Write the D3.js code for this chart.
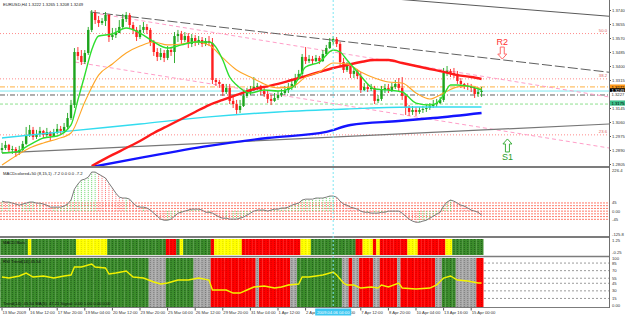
<!DOCTYPE html>
<html>
<head>
<meta charset="utf-8">
<script src="https://d3js.org/d3.v7.min.js"></script>
<style>
  body { margin:0; background:#ffffff; }
  svg { display:block; font-family:"Liberation Sans", Arial, sans-serif; }
</style>
</head>
<body>
<script>
    // ---------- EURUSD H4 candles ----------
    var firstOpen = 1.2890;
    var closes = [1.2902,1.2921,1.2890,1.2896,1.2878,1.2890,1.2927,1.2981,1.3012,1.2969,
        1.2987,1.3006,1.2981,1.2999,1.2975,1.2993,1.3018,1.3006,1.3030,1.3084,
        1.3163,1.3485,1.3461,1.3424,1.3479,1.3619,1.3722,1.3679,1.3661,1.3673,
        1.3710,1.3576,1.3588,1.3600,1.3637,1.3685,1.3710,1.3649,1.3619,1.3576,
        1.3619,1.3637,1.3619,1.3546,1.3485,1.3455,1.3479,1.3449,1.3497,1.3485,
        1.3582,1.3594,1.3558,1.3582,1.3534,1.3570,1.3546,1.3558,1.3534,1.3552,
        1.3540,1.3315,1.3303,1.3291,1.3242,1.3267,1.3188,1.3169,1.3133,1.3157,
        1.3218,1.3242,1.3254,1.3273,1.3279,1.3248,1.3230,1.3200,1.3188,1.3206,
        1.3224,1.3236,1.3254,1.3273,1.3291,1.3327,1.3352,1.3455,1.3430,1.3443,
        1.3430,1.3449,1.3430,1.3473,1.3509,1.3546,1.3564,1.3534,1.3424,1.3376,
        1.3400,1.3352,1.3370,1.3339,1.3254,1.3273,1.3260,1.3267,1.3188,1.3200,
        1.3254,1.3267,1.3254,1.3273,1.3291,1.3267,1.3218,1.3145,1.3121,1.3133,
        1.3121,1.3133,1.3139,1.3145,1.3157,1.3169,1.3175,1.3194,1.3358,1.3370,
        1.3358,1.3352,1.3309,1.3291,1.3279,1.3273,1.3267,1.3230,1.3242,1.3249];
    var highs = [1.2933,1.2945,1.2927,1.2915,1.2908,1.2915,1.2945,1.3030,1.3042,1.3030,
        1.3012,1.3030,1.3012,1.3024,1.3006,1.3018,1.3048,1.3036,1.3054,1.3115,
        1.3194,1.3509,1.3515,1.3497,1.3497,1.3637,1.3740,1.3740,1.3704,1.3691,
        1.3728,1.3716,1.3631,1.3631,1.3679,1.3716,1.3728,1.3722,1.3667,1.3637,
        1.3649,1.3667,1.3655,1.3631,1.3558,1.3509,1.3509,1.3497,1.3521,1.3515,
        1.3606,1.3619,1.3613,1.3606,1.3600,1.3594,1.3588,1.3582,1.3576,1.3570,
        1.3582,1.3570,1.3327,1.3315,1.3291,1.3291,1.3291,1.3218,1.3194,1.3194,
        1.3254,1.3267,1.3279,1.3333,1.3297,1.3285,1.3267,1.3254,1.3224,1.3236,
        1.3248,1.3260,1.3279,1.3297,1.3315,1.3352,1.3376,1.3473,1.3515,1.3467,
        1.3461,1.3467,1.3461,1.3497,1.3528,1.3570,1.3582,1.3576,1.3546,1.3449,
        1.3424,1.3412,1.3394,1.3382,1.3364,1.3297,1.3291,1.3291,1.3279,1.3224,
        1.3279,1.3291,1.3291,1.3297,1.3315,1.3327,1.3333,1.3230,1.3163,1.3157,
        1.3151,1.3151,1.3157,1.3163,1.3175,1.3194,1.3200,1.3212,1.3388,1.3400,
        1.3382,1.3388,1.3370,1.3327,1.3297,1.3297,1.3291,1.3279,1.3267,1.3273];
    var lows = [1.2872,1.2890,1.2872,1.2866,1.2848,1.2860,1.2878,1.2921,1.2969,1.2951,
        1.2957,1.2969,1.2963,1.2969,1.2945,1.2969,1.2987,1.2981,1.2993,1.3018,
        1.3072,1.3145,1.3436,1.3406,1.3412,1.3467,1.3606,1.3655,1.3637,1.3649,
        1.3643,1.3546,1.3558,1.3570,1.3600,1.3625,1.3667,1.3631,1.3594,1.3552,
        1.3564,1.3600,1.3594,1.3521,1.3461,1.3430,1.3436,1.3424,1.3436,1.3461,
        1.3418,1.3546,1.3534,1.3546,1.3509,1.3515,1.3521,1.3528,1.3515,1.3521,
        1.3521,1.3291,1.3279,1.3267,1.3218,1.3230,1.3169,1.3145,1.3109,1.3115,
        1.3151,1.3206,1.3224,1.3248,1.3254,1.3224,1.3212,1.3175,1.3163,1.3182,
        1.3194,1.3212,1.3224,1.3236,1.3254,1.3267,1.3315,1.3339,1.3412,1.3418,
        1.3412,1.3424,1.3412,1.3424,1.3461,1.3503,1.3528,1.3515,1.3400,1.3358,
        1.3364,1.3327,1.3327,1.3321,1.3236,1.3248,1.3242,1.3248,1.3169,1.3175,
        1.3188,1.3236,1.3236,1.3242,1.3260,1.3248,1.3194,1.3103,1.3097,1.3103,
        1.3097,1.3109,1.3115,1.3121,1.3133,1.3145,1.3151,1.3169,1.3182,1.3339,
        1.3333,1.3327,1.3291,1.3267,1.3260,1.3254,1.3242,1.3206,1.3212,1.3212];

    // ---------- moving averages (read at selected bars) ----------
    var fastIdx = [0,4,8,12,16,20,22,24,26,28,32,36,40,44,48,52,56,60,62,64,66,68,72,76,80,84,86,88,92,96,98,100,102,104,108,112,116,120,124,126,128,130,132,136,139];
    var fastMa  = [1.2872,1.2878,1.2921,1.2963,1.2975,1.3042,1.3194,1.3345,1.3497,1.3582,1.3594,1.3631,1.3600,1.3546,1.3509,1.3528,1.3546,1.3546,1.3515,1.3436,1.3333,1.3285,1.3236,1.3254,1.3248,1.3267,1.3327,1.3394,1.3424,1.3497,1.3485,1.3436,1.3388,1.3339,1.3260,1.3254,1.3242,1.3175,1.3163,1.3175,1.3224,1.3285,1.3285,1.3273,1.3254];
    var midIdx = [0,4,8,12,16,20,24,28,32,36,40,44,48,52,56,60,64,68,72,76,80,84,88,92,96,100,104,108,112,116,120,124,128,132,136,139];
    var midMa  = [1.2799,1.2854,1.2902,1.2933,1.2957,1.2993,1.3182,1.3345,1.3412,1.3479,1.3521,1.3546,1.3528,1.3534,1.3546,1.3528,1.3449,1.3376,1.3333,1.3291,1.3267,1.3273,1.3333,1.3364,1.3418,1.3412,1.3364,1.3327,1.3303,1.3297,1.3236,1.3200,1.3236,1.3273,1.3279,1.3260];
    var slowIdx = [26,32,36,40,44,48,52,56,60,64,68,72,76,80,84,88,92,96,100,104,108,112,116,120,124,128,132,136,139];
    var slowMa  = [1.2793,1.2860,1.2902,1.2945,1.2993,1.3036,1.3078,1.3121,1.3163,1.3194,1.3224,1.3254,1.3273,1.3291,1.3315,1.3339,1.3364,1.3388,1.3406,1.3424,1.3436,1.3436,1.3418,1.3400,1.3382,1.3364,1.3345,1.3333,1.3321];
    var cyanIdx = [0,20,40,60,80,100,120,139];
    var cyanMa  = [1.2963,1.3006,1.3048,1.3091,1.3121,1.3139,1.3151,1.3151];
    var blueIdx = [26,40,60,77,94,101,115,125,139];
    var blueMa  = [1.2787,1.2842,1.2915,1.2963,1.3000,1.3042,1.3066,1.3084,1.3115];

    // ---------- levels, trend lines ----------
    var priceTicks = [1.2805,1.2890,1.2975,1.3060,1.3145,1.3315,1.3400,1.3485,1.3570,1.3655,1.3740];
    var fibLevels = [1.3597, 1.3322, 1.2982];
    var fibNames = ["50.0", "38.2", "23.6"];
    var hLevels = [1.3273, 1.3248, 1.3224, 1.3169];
    // [bar1, price1, bar2, price2]
    var trendLines = [[25.5,1.3728,176,1.3362],[115,1.3805,176,1.3702],[28.4,1.3716,176,1.3212],[21.2,1.3424,176,1.2902],[0,1.2872,176,1.3048]];
    var tagValues = [1.3272, 1.3249, 1.3227, 1.3175];
    var tagText = ["1.3272", "1.3249", "1.3227", "1.3175"];

    // ---------- MACD window ----------
    var macd = [55,50,50,44,39,33,39,44,50,50,
        44,44,39,33,22,22,22,22,28,39,
        61,121,149,171,176,187,215,215,204,193,
        182,154,127,99,77,72,72,66,44,28,
        22,22,17,6,-11,-28,-44,-50,-50,-44,
        -28,-11,-6,0,6,11,11,11,6,-6,
        -6,-11,-22,-33,-39,-39,-44,-44,-44,-39,
        -33,-22,-11,0,6,6,6,0,6,11,
        11,17,17,22,33,39,44,61,66,66,
        66,72,72,72,77,83,83,77,55,39,
        33,22,17,11,0,-6,-6,-11,-11,-11,
        -6,-6,0,0,0,0,-11,-28,-44,-55,
        -61,-61,-55,-50,-39,-28,-17,-6,28,50,
        61,55,44,33,28,17,6,0,-6,-22];
    var macdLevels = [45,30,15,0,-15,-30,-45];

    // ---------- colour bar windows (state, number of bars) ----------
    var band1Runs = [["G",8],["Y",1],["G",13],["Y",9],["G",17],["R",3],["G",1],["Y",1],["G",8],["R",1],["Y",8],["R",17],["Y",3],["G",13],["R",2],["Y",3],["R",1],["Y",1],["R",8],["Y",3],["R",8],["Y",2],["G",9]];
    var band2Runs = [["G",43],["S",5],["G",8],["S",5],["R",13],["S",1],["R",9],["S",2],["G",13],["S",2],["R",1],["S",2],["R",4],["S",2],["R",5],["S",1],["R",10],["S",2],["G",4],["S",6],["R",2]];
    var rsiIdx  = [0,2,5,7,9,12,15,18,20,21,23,26,27,30,31,33,36,38,41,44,46,48,51,54,57,60,61,65,67,69,71,73,76,79,81,83,86,87,89,93,96,97,99,100,102,104,107,109,110,112,115,116,120,124,126,128,130,132,135,138,139];
    var rsiVals = [57.4,55.4,59.4,65.3,57.4,59.4,55.4,59.4,61.4,77.2,77.2,83.2,77.2,75.2,63.4,65.3,69.3,57.4,55.4,47.5,43.6,45.5,51.5,51.5,55.4,51.5,31.7,31.7,25.7,25.7,31.7,37.6,39.6,35.6,37.6,41.6,43.6,57.4,57.4,61.4,67.3,61.4,45.5,41.6,41.6,35.6,37.6,35.6,41.6,37.6,45.5,35.6,33.7,35.6,41.6,55.4,59.4,51.5,49.5,45.5,45.5];
    var rsiLevels = [85,70,55,45,30,15];

    // ---------- time axis ----------
    var timeIdx = [0,8,16,24,32,40,48,56,64,72,80,88,96,104,112,120,128,136];
    var timeLabels = ["13 Mar 2009","16 Mar 12:00","17 Mar 20:00","19 Mar 04:00","20 Mar 12:00","23 Mar 20:00","25 Mar 04:00","26 Mar 12:00","29 Mar 20:00","31 Mar 04:00","1 Apr 12:00","2 Apr 20:00","6 Apr 04:00","7 Apr 12:00","8 Apr 20:00","10 Apr 04:00","13 Apr 16:00","15 Apr 00:00"];
    var cursorBar = 96, cursorText = "2009.04.06 04:00";

    var small = 4.2;
    var right = 609;

    var svg = d3.select("body").append("svg")
        .attr("width", 625).attr("height", 316)
        .style("background-color", "#ffffff");

    var x = d3.scaleLinear().domain([0, 139]).range([2, 481.55]);
    var barW = x(1) - x(0);
    var yP = d3.scaleLinear().domain([1.2805, 1.3740]).range([164, 10]);
    var yM = d3.scaleLinear().domain([-125.8, 226.4]).range([234, 170]);
    var yR = d3.scaleLinear().domain([0, 100]).range([306, 255.5]);

    var defs = svg.append("defs");
    function panel(id, y0, h) {
        defs.append("clipPath").attr("id", id).append("rect")
            .attr("x", 0).attr("y", y0).attr("width", right).attr("height", h);
        return svg.append("g").attr("clip-path", "url(#" + id + ")");
    }
    var gMain = panel("cMain", 0, 166);
    var gMacd = panel("cMacd", 169, 67);
    var gBand = panel("cBand", 239, 17);
    var gRsi = panel("cRsi", 258, 49);

    function hline(g, y, color, dash, w) {
        g.append("line").attr("x1", 0).attr("x2", right).attr("y1", y).attr("y2", y)
            .attr("stroke", color).attr("stroke-width", w || 1)
            .attr("stroke-dasharray", dash || null);
    }

    // ---- main window ----
    fibLevels.forEach(function (p, k) {
        hline(gMain, yP(p), "#ff8c8c", "1,2");
        gMain.append("text").attr("x", 607).attr("y", yP(p) - 1.5).attr("text-anchor", "end")
            .attr("font-size", small).attr("fill", "#e06060").text(fibNames[k]);
    });
    var hStyle = [["#ffb040", "5,2,1,2"], ["#80e8f0", null], ["#606060", "5,2,1,2"], ["#8ee08e", "3,2"]];
    hLevels.forEach(function (p, k) { hline(gMain, yP(p), hStyle[k][0], hStyle[k][1]); });

    var tStyle = [["#606060", "10,3", 1], ["#5a5a5a", null, 1], ["#ff9ec8", "4,3", 1], ["#ff9ec8", "4,3", 1], ["#777777", null, 1.2]];
    trendLines.forEach(function (t, k) {
        gMain.append("line")
            .attr("x1", x(t[0])).attr("y1", yP(t[1]))
            .attr("x2", x(t[2])).attr("y2", yP(t[3]))
            .attr("stroke", tStyle[k][0]).attr("stroke-width", tStyle[k][2])
            .attr("stroke-dasharray", tStyle[k][1]);
    });

    var bars = closes.map(function (c, i) {
        return { i: i, o: i ? closes[i - 1] : firstOpen, h: highs[i], l: lows[i], c: c };
    });
    function candleColor(d) { return d.c >= d.o ? "#1ea51e" : "#ff1f1f"; }
    gMain.selectAll(".wick").data(bars).enter().append("line")
        .attr("class", "wick")
        .attr("x1", function (d) { return x(d.i); }).attr("x2", function (d) { return x(d.i); })
        .attr("y1", function (d) { return yP(d.h); }).attr("y2", function (d) { return yP(d.l); })
        .attr("stroke", candleColor).attr("stroke-width", 0.9);
    gMain.selectAll(".body").data(bars).enter().append("rect")
        .attr("class", "body")
        .attr("x", function (d) { return x(d.i) - 1.2; }).attr("width", 2.4)
        .attr("y", function (d) { return yP(Math.max(d.o, d.c)); })
        .attr("height", function (d) { return Math.max(0.8, Math.abs(yP(d.o) - yP(d.c))); })
        .attr("fill", candleColor);

    function maLine(idx, vals, color, w) {
        var line = d3.line().curve(d3.curveMonotoneX)
            .x(function (d, k) { return x(idx[k]); })
            .y(function (d) { return yP(d); });
        gMain.append("path").attr("d", line(vals)).attr("fill", "none")
            .attr("stroke", color).attr("stroke-width", w);
    }
    maLine(cyanIdx, cyanMa, "#33dcef", 1.4);
    maLine(blueIdx, blueMa, "#1414ff", 2.4);
    maLine(slowIdx, slowMa, "#ff1a1a", 2.4);
    maLine(midIdx, midMa, "#ffa526", 1.1);
    maLine(fastIdx, fastMa, "#2ede2e", 1.4);

    // check mark above the peak
    var cx = x(cursorBar), top = yP(highs[cursorBar]) - 20;
    gMain.append("path")
        .attr("d", "M" + (cx - 5) + "," + (top + 6) + " L" + (cx - 1.5) + "," + (top + 11) + " L" + (cx + 6) + "," + top)
        .attr("fill", "none").attr("stroke", "#111").attr("stroke-width", 2);

    // pivot notes
    var notes = [
        { text: "R2", bar: 145, price: 1.3515, dir: -1, color: "#ff3030", edge: "#ff6a6a" },
        { text: "S1", bar: 146.5, price: 1.2957, dir: 1, color: "#2a9a2a", edge: "#3cae3c" }
    ];
    notes.forEach(function (n) {
        var ax = x(n.bar), ay = yP(n.price), s = n.dir;
        // arrow: for "down" ay is top of shaft, tip 12px lower; for "up" ay is the tip
        var tip = s < 0 ? ay + 12 : ay, base = s < 0 ? ay : ay + 13;
        var neck = s < 0 ? tip - 5 : tip + 5;
        var pts = [[ax - 2, base], [ax + 2, base], [ax + 2, neck], [ax + 4.5, neck], [ax, tip], [ax - 4.5, neck], [ax - 2, neck]];
        gMain.append("polygon").attr("points", pts.map(function (p) { return p.join(","); }).join(" "))
            .attr("fill", "#ffffff").attr("stroke", n.edge).attr("stroke-width", 1);
        gMain.append("text").attr("x", ax).attr("y", s < 0 ? ay - 2 : base + 8)
            .attr("text-anchor", "middle").attr("font-size", 9).attr("fill", n.color).text(n.text);
    });

    svg.append("text").attr("x", 3).attr("y", 6).attr("font-size", small).attr("fill", "#222")
        .text("EURUSD,H4  1.3222 1.3265 1.3208 1.3249");

    // price scale
    var ga = svg.append("g").attr("transform", "translate(" + right + ",0)")
        .call(d3.axisRight(yP).tickValues(priceTicks).tickFormat(d3.format(".4f")).tickSize(2));
    ga.select(".domain").remove();
    ga.attr("font-size", small).attr("font-family", "Liberation Sans, Arial, sans-serif");
    ga.selectAll("line").attr("stroke", "#555");
    ga.selectAll("text").attr("x", 3).attr("fill", "#333");

    var tagFill = ["#ff9a1a", "#000000", "#ffffff", "#3cc08a"];
    var tagInk = ["#000", "#fff", "#333", "#000"];
    tagValues.forEach(function (v, k) {
        svg.append("rect").attr("x", right + 1).attr("y", yP(v) - 2.6).attr("width", 15).attr("height", 5.2)
            .attr("fill", tagFill[k]);
        svg.append("text").attr("x", right + 2.5).attr("y", yP(v) + 1.5).attr("font-size", small)
            .attr("fill", tagInk[k]).text(tagText[k]);
    });

    // ---- MACD window ----
    macdLevels.forEach(function (v) { hline(gMacd, yM(v), "#ff7a6a", "2,1"); });
    gMacd.selectAll(".hist").data(macd).enter().append("line")
        .attr("x1", function (d, i) { return x(i); }).attr("x2", function (d, i) { return x(i); })
        .attr("y1", yM(0)).attr("y2", function (d) { return yM(d); })
        .attr("stroke", function (d, i) { return (i === 0 || d >= macd[i - 1]) ? "#6ad66a" : "#ff7070"; })
        .attr("stroke-width", 1).attr("stroke-dasharray", "1,1");
    gMacd.append("path")
        .attr("d", d3.line().x(function (d, i) { return x(i); }).y(function (d) { return yM(d); })(macd))
        .attr("fill", "none").attr("stroke", "#7a7a7a").attr("stroke-width", 1);
    svg.append("text").attr("x", 3).attr("y", 175).attr("font-size", small).attr("fill", "#222")
        .text("MACDcolored+50 (8,15,1) -7.2 0.0 0.0 -7.2");
    [[226.4, "226.4"], [45, "45"], [0, "0.00"], [-45, "-45"], [-125.8, "-125.8"]].forEach(function (t) {
        svg.append("text").attr("x", right + 3).attr("y", yM(t[0]) + 1.5).attr("font-size", small)
            .attr("fill", "#333").text(t[1]);
    });

    // ---- colour bar windows ----
    function expand(runs) {
        var out = [];
        runs.forEach(function (r) { for (var k = 0; k < r[1]; k++) out.push(r[0]); });
        return out;
    }
    var fillOf = { G: "#3c8c2c", Y: "#ffff00", R: "#ff0000", S: "#a9a9a9" };
    var grainOf = { G: "#1c5618", Y: "#d6d600", R: "#c40000", S: "#6e6e6e" };
    function drawBand(g, states, y0, h) {
        g.selectAll(null).data(states).enter().append("rect")
            .attr("x", function (d, i) { return x(i) - barW / 2; }).attr("width", barW + 0.2)
            .attr("y", y0).attr("height", h)
            .attr("fill", function (d) { return fillOf[d]; });
        g.selectAll(null).data(states).enter().append("line")
            .attr("x1", function (d, i) { return x(i); }).attr("x2", function (d, i) { return x(i); })
            .attr("y1", y0).attr("y2", y0 + h)
            .attr("stroke", function (d) { return grainOf[d]; })
            .attr("stroke-width", 0.8).attr("stroke-dasharray", "1,1");
    }
    drawBand(gBand, expand(band1Runs), 239, 16);
    svg.append("text").attr("x", 3).attr("y", 244).attr("font-size", small).attr("fill", "#111")
        .text("MACD Bars");
    svg.append("text").attr("x", right + 3).attr("y", 242).attr("font-size", small).attr("fill", "#333").text("1.25");
    svg.append("text").attr("x", right + 3).attr("y", 254).attr("font-size", small).attr("fill", "#333").text("-0.25");

    rsiLevels.forEach(function (v) { hline(gRsi, yR(v), "#9a9a9a", "2,2"); });
    drawBand(gRsi, expand(band2Runs), 258, 49);
    gRsi.append("path")
        .attr("d", d3.line().x(function (d, k) { return x(rsiIdx[k]); }).y(function (d) { return yR(d); })(rsiVals))
        .attr("fill", "none").attr("stroke", "#f2f200").attr("stroke-width", 1.4);
    svg.append("text").attr("x", 3).attr("y", 263).attr("font-size", small).attr("fill", "#111")
        .text("RSI Trend(14) 45.54");
    svg.append("text").attr("x", 3).attr("y", 305).attr("font-size", small).attr("fill", "#111")
        .text("Trend(14): 45.54  MA(5): 47.21  Signal: 0.00 1.00 0.00 0.00");
    svg.append("text").attr("x", right + 3).attr("y", 260).attr("font-size", small).attr("fill", "#333").text("100");
    rsiLevels.forEach(function (v) {
        svg.append("text").attr("x", right + 3).attr("y", yR(v) + 1.5).attr("font-size", small)
            .attr("fill", "#333").text(v);
    });
    svg.append("text").attr("x", right + 3).attr("y", 307).attr("font-size", small).attr("fill", "#333").text("0.00");

    // ---- frames ----
    [[167, 2], [237, 2], [256.5, 1.4], [307.5, 1]].forEach(function (b) {
        svg.append("line").attr("x1", 0).attr("x2", right).attr("y1", b[0]).attr("y2", b[0])
            .attr("stroke", "#7c7c7c").attr("stroke-width", b[1]);
    });
    svg.append("line").attr("x1", right + 0.5).attr("x2", right + 0.5).attr("y1", 0).attr("y2", 308)
        .attr("stroke", "#707070").attr("stroke-width", 1);

    // cursor
    svg.append("line").attr("x1", x(cursorBar)).attr("x2", x(cursorBar)).attr("y1", 0).attr("y2", 308)
        .attr("stroke", "#7fe6f2").attr("stroke-width", 1).attr("stroke-dasharray", "2,2");

    // ---- time axis ----
    var boxL = x(cursorBar) - 18, boxR = x(cursorBar) + 18;
    var tClip = defs.append("clipPath").attr("id", "cTime");
    tClip.append("rect").attr("x", 0).attr("y", 306).attr("width", boxL).attr("height", 10);
    tClip.append("rect").attr("x", boxR).attr("y", 306).attr("width", 625 - boxR).attr("height", 10);
    var gTime = svg.append("g").attr("clip-path", "url(#cTime)");
    timeIdx.forEach(function (b, k) {
        gTime.append("line").attr("x1", x(b)).attr("x2", x(b)).attr("y1", 308).attr("y2", 310.5)
            .attr("stroke", "#555");
        gTime.append("text").attr("x", x(b) + 0.5).attr("y", 314).attr("font-size", small)
            .attr("fill", "#333").text(timeLabels[k]);
    });
    svg.append("rect").attr("x", boxL).attr("y", 308.5).attr("width", boxR - boxL).attr("height", 7)
        .attr("fill", "#3ec8f2");
    svg.append("text").attr("x", x(cursorBar)).attr("y", 313.8).attr("text-anchor", "middle")
        .attr("font-size", small).attr("fill", "#ffffff").text(cursorText);
</script>
</body>
</html>
